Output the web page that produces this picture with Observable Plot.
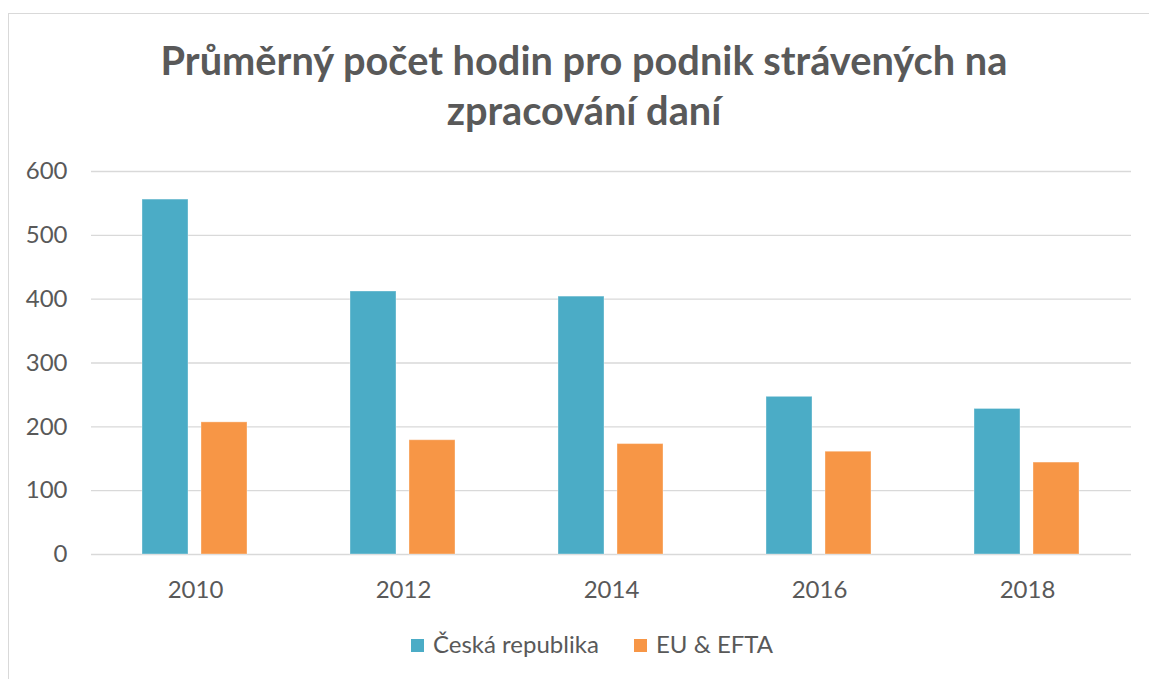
<!DOCTYPE html>
<html>
<head>
<meta charset="utf-8">
<script src="https://cdn.jsdelivr.net/npm/d3@7"></script>
<script src="https://cdn.jsdelivr.net/npm/@observablehq/plot@0.6"></script>
<style>
  html, body { margin: 0; padding: 0; background: #fff; }
  body { width: 1149px; height: 679px; overflow: hidden; position: relative; font-family: Lato, "Open Sans", sans-serif; color: #595959; }
  #frame { position: absolute; left: 8px; top: 13px; width: 1160px; height: 700px; border: 1.5px solid #d9d9d9; box-sizing: border-box; }
  #title { position: absolute; left: 0; width: 1168px; top: 35px; text-align: center; font-weight: bold; color: #595959; line-height: 50px; }
  #title div { white-space: nowrap; }
  #chart { position: absolute; left: 0; top: 140px; }
  .legtext { position: absolute; font-size: 24px; line-height: 24px; color: #595959; white-space: nowrap; }
  .legsq { position: absolute; width: 13px; height: 13px; }
</style>
</head>
<body>
<div id="frame"></div>
<div id="title"><div>Průměrný počet hodin pro podnik strávených na</div><div>zpracování daní</div></div>
<div id="chart"></div>
<div id="legend"></div>
<script>
const years = ["2010", "2012", "2014", "2016", "2018"];
const series = ["Česká republika", "EU & EFTA"];
const czValues = [556, 412, 404, 247, 228];
const euValues = [207, 179, 173, 161, 144];
const yTicks = [0, 100, 200, 300, 400, 500, 600];
const colors = ["#4BACC6", "#F79646"];

const data = years.flatMap((y, i) => [
  {year: y, series: series[0], value: czValues[i]},
  {year: y, series: series[1], value: euValues[i]}
]);

// fit title font size to reference line width
const cv = document.createElement("canvas").getContext("2d");
cv.font = "bold 40px Lato";
const w = cv.measureText("Průměrný počet hodin pro podnik strávených na").width;
const fs = 40 * 848 / w;
document.getElementById("title").style.fontSize = fs.toFixed(2) + "px";

const chart = Plot.plot({
  width: 1149,
  height: 480,
  marginLeft: 91,
  marginRight: 18,
  marginTop: 31,
  marginBottom: 66,
  style: {fontFamily: "Lato, 'Open Sans', sans-serif", fontSize: "24px", color: "#595959", background: "transparent"},
  fx: {domain: years, padding: 0, label: null},
  x: {domain: series, paddingInner: 0.2167, paddingOuter: 0.842, axis: null},
  y: {domain: [0, 600], label: null},
  color: {domain: series, range: colors},
  marks: [
    Plot.ruleY(yTicks, {stroke: "#d9d9d9", strokeWidth: 1.4}),
    Plot.barY(data, {fx: "year", x: "series", y: "value", fill: "series", stroke: "#ffffff", strokeOpacity: 0.35, strokeWidth: 1}),
    Plot.axisY(yTicks, {tickSize: 0, tickPadding: 24, label: null, fill: "#595959"}),
    Plot.axisFx({anchor: "bottom", tickSize: 0, tickPadding: 26, label: null, fill: "#595959"})
  ]
});
document.getElementById("chart").appendChild(chart);

// legend
const legend = document.getElementById("legend");
const legX = [411, 634];
series.forEach((s, i) => {
  const sq = document.createElement("div");
  sq.className = "legsq";
  sq.style.left = legX[i] + "px";
  sq.style.top = "639px";
  sq.style.background = colors[i];
  legend.appendChild(sq);
  const t = document.createElement("div");
  t.className = "legtext";
  t.style.left = (legX[i] + 22) + "px";
  t.style.top = "632px";
  t.textContent = s;
  legend.appendChild(t);
});
</script>
</body>
</html>
